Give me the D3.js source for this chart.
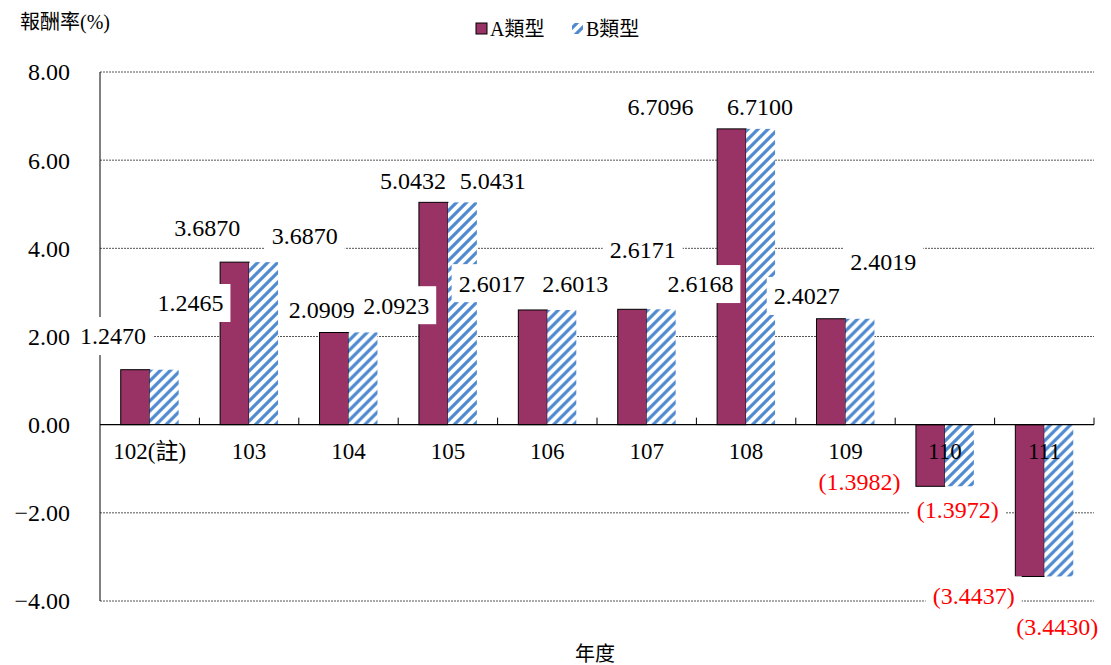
<!DOCTYPE html>
<html><head><meta charset="utf-8">
<script src="https://cdn.jsdelivr.net/npm/d3@7"></script>
<style>
html,body{margin:0;padding:0;background:#fff;}
svg{display:block;}
</style></head>
<body>
<svg id="chart" width="1111" height="665"></svg>
<script>
const categories = ["102(註)","103","104","105","106","107","108","109","110","111"];
const seriesNames = ["A類型","B類型"];
const valuesA = [1.2470, 3.6870, 2.0909, 5.0432, 2.6017, 2.6171, 6.7096, 2.4027, -1.3982, -3.4437];
const valuesB = [1.2465, 3.6870, 2.0923, 5.0431, 2.6013, 2.6168, 6.7100, 2.4019, -1.3972, -3.4430];
const yTicks = [-4, -2, 0, 2, 4, 6, 8];
// label anchors in data space: [category position (0..10), value]
const labelAnchorA = [[0.13,2.01],[1.08,4.46],[2.23,2.60],[3.15,5.54],[3.94,3.21],[5.46,3.96],[5.64,7.22],[7.11,2.92],[7.64,-1.29],[8.79,-3.87]];
const labelAnchorB = [[0.91,2.76],[2.06,4.28],[2.98,2.71],[3.95,5.54],[4.78,3.21],[6.04,3.19],[6.64,7.22],[7.88,3.69],[8.63,-1.92],[9.63,-4.57]];

const FONT = "'Liberation Serif','Times New Roman','DejaVu Serif','Noto Sans CJK TC',serif";
const svg = d3.select("#chart").attr("font-family", FONT);
const pLeft = 100, pRight = 1094, pTop = 72, pBottom = 601;
const colorA = "#993366", colorB = "#4f8ad0";

const defs = svg.append("defs");
const pat = defs.append("pattern").attr("id","hatch").attr("patternUnits","userSpaceOnUse")
  .attr("width",10).attr("height",10);
pat.append("rect").attr("width",10).attr("height",10).attr("fill","#fff");
pat.append("path").attr("d","M-2,12 L12,-2 M-7,7 L7,-7 M3,17 L17,3")
  .attr("stroke",colorB).attr("stroke-width",3.2);

const y = d3.scaleLinear().domain([-4, 8]).range([pBottom, pTop]);
const x0 = d3.scaleBand().domain(categories).range([pLeft, pRight]).paddingInner(0.417).paddingOuter(0.2085);
const x1 = d3.scaleBand().domain(seriesNames).range([0, x0.bandwidth()]);
const xPos = d3.scaleLinear().domain([0, categories.length]).range([pLeft, pRight]);

// gridlines
svg.append("g").selectAll("line").data(yTicks.filter(d => d !== 0)).join("line")
  .attr("x1", pLeft).attr("x2", pRight).attr("y1", d => y(d)).attr("y2", d => y(d))
  .attr("stroke", "#555").attr("stroke-width", 1).attr("stroke-dasharray", "2,1");

// y tick labels
svg.append("g").selectAll("text").data(yTicks).join("text")
  .attr("x", 70).attr("y", d => y(d)).attr("dy", "0.35em")
  .attr("text-anchor", "end").attr("font-size", 24)
  .text(d => d3.format(".2f")(d));

// left axis line
svg.append("line").attr("x1", pLeft).attr("x2", pLeft).attr("y1", pTop).attr("y2", pBottom)
  .attr("stroke", "#000").attr("stroke-width", 1);

// bars
const data = categories.map((c, i) => ({cat: c, vals: [valuesA[i], valuesB[i]]}));
const groups = svg.append("g").selectAll("g").data(data).join("g")
  .attr("transform", d => `translate(${x0(d.cat)},0)`);
groups.selectAll("rect").data(d => d.vals.map((v, j) => ({s: seriesNames[j], v, j}))).join("rect")
  .attr("x", d => x1(d.s)).attr("width", x1.bandwidth())
  .attr("y", d => Math.min(y(d.v), y(0))).attr("height", d => Math.abs(y(d.v) - y(0)))
  .attr("fill", d => d.j === 0 ? colorA : "url(#hatch)")
  .attr("stroke", d => d.j === 0 ? "#000" : "none").attr("stroke-width", 1);

// zero axis
svg.append("line").attr("x1", pLeft).attr("x2", pRight).attr("y1", y(0)).attr("y2", y(0))
  .attr("stroke", "#000").attr("stroke-width", 1.2);
svg.append("g").selectAll("line").data(d3.range(1, categories.length + 1)).join("line")
  .attr("x1", d => xPos(d)).attr("x2", d => xPos(d)).attr("y1", y(0) - 7).attr("y2", y(0))
  .attr("stroke", "#000");

// category labels
svg.append("g").selectAll("text").data(categories).join("text")
  .attr("x", d => x0(d) + x0.bandwidth() / 2).attr("y", y(0) + 26).attr("dy", "0.35em")
  .attr("text-anchor", "middle").attr("font-size", 23)
  .text(d => d);

// data labels
const fmt = v => v < 0 ? "(" + d3.format(".4f")(-v) + ")" : d3.format(".4f")(v);
const labels = [];
valuesA.forEach((v, i) => labels.push({v, a: labelAnchorA[i]}));
valuesB.forEach((v, i) => labels.push({v, a: labelAnchorB[i]}));
const lg = svg.append("g");
labels.forEach(l => {
  const cx = xPos(l.a[0]), cy = y(l.a[1]);
  const t = lg.append("text").attr("x", cx).attr("y", cy).attr("dy", "0.35em")
    .attr("text-anchor", "middle").attr("font-size", 24)
    .attr("fill", l.v < 0 ? "#ff0000" : "#000").text(fmt(l.v));
  const bb = t.node().getBBox();
  const w = Math.max(80, bb.width + 14);
  lg.insert("rect", () => t.node()).attr("x", cx - w / 2).attr("y", cy - 19)
    .attr("width", w).attr("height", 38).attr("fill", "#fff");
});

// titles
svg.append("text").attr("x", 20).attr("y", 22).attr("dy", "0.35em").attr("font-size", 20)
  .text("報酬率(%)");
svg.append("text").attr("x", 595).attr("y", 654).attr("dy", "0.35em").attr("font-size", 20)
  .attr("text-anchor", "middle").text("年度");

// legend
const leg = svg.append("g");
leg.append("rect").attr("x", 476).attr("y", 23).attr("width", 11).attr("height", 11)
  .attr("fill", colorA).attr("stroke", "#000").attr("stroke-width", 1);
leg.append("text").attr("x", 490).attr("y", 29).attr("dy", "0.35em").attr("font-size", 20).text(seriesNames[0]);
leg.append("rect").attr("x", 572).attr("y", 23).attr("width", 11).attr("height", 11).attr("fill", "url(#hatch)");
leg.append("text").attr("x", 586).attr("y", 29).attr("dy", "0.35em").attr("font-size", 20).text(seriesNames[1]);
</script>
</body></html>
